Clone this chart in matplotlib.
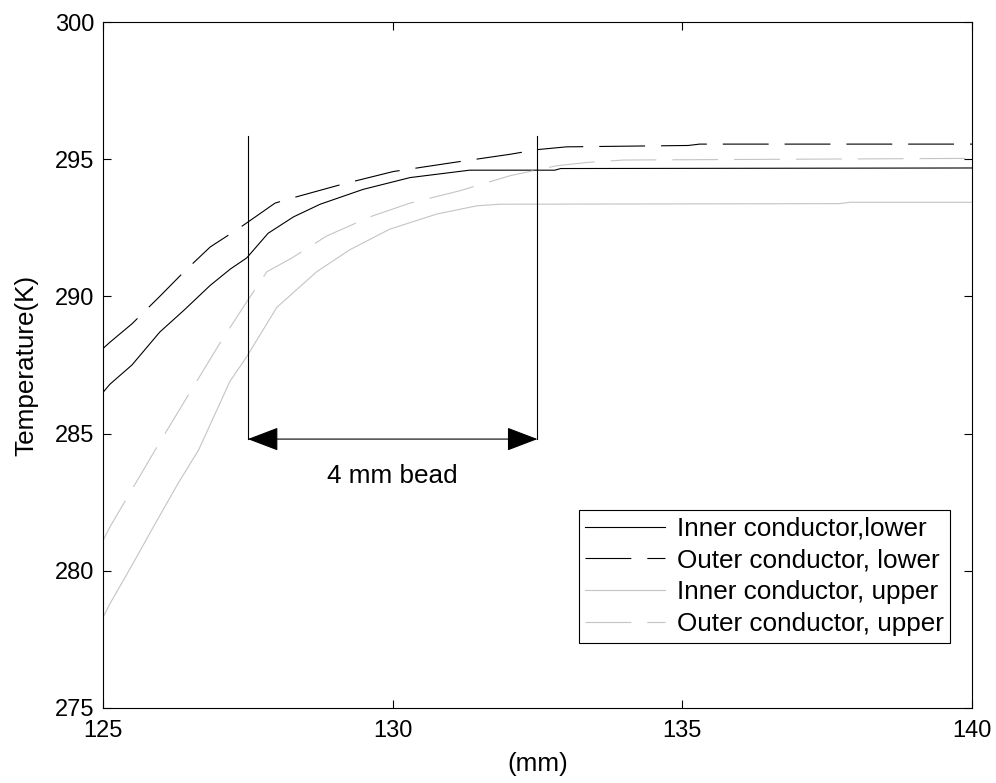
import matplotlib
matplotlib.use("Agg")
import matplotlib.pyplot as plt

plt.rcParams['font.family'] = ['Liberation Sans', 'DejaVu Sans']
plt.rcParams['font.size'] = 18.8
plt.rcParams['lines.scale_dashes'] = False

# series (position in mm, temperature in K)
x_inner_lower = [125.0, 125.12, 125.5, 125.98, 126.4, 126.85, 127.2, 127.48, 127.85,
                 128.29, 128.75, 129.49, 130.3, 131.33, 132.8, 132.9, 140.0]
t_inner_lower = [286.5, 286.8, 287.5, 288.7, 289.5, 290.4, 291.0, 291.4, 292.3,
                 292.9, 293.36, 293.9, 294.33, 294.6, 294.6, 294.66, 294.68]

x_outer_lower = [125.0, 125.12, 125.5, 125.98, 126.4, 126.85, 127.36, 127.97, 128.29,
                 129.15, 130.01, 131.05, 132.03, 132.5, 133.0, 135.1, 135.3, 140.0]
t_outer_lower = [288.1, 288.33, 289.0, 290.0, 290.9, 291.8, 292.5, 293.4, 293.6,
                 294.1, 294.55, 294.88, 295.18, 295.35, 295.45, 295.5, 295.55, 295.55]

x_inner_upper = [125.0, 125.12, 125.5, 125.87, 126.3, 126.65, 127.19, 127.48, 128.0,
                 128.69, 129.26, 129.95, 130.76, 131.45, 131.85, 137.7, 137.9, 140.0]
t_inner_upper = [278.3, 278.8, 280.2, 281.6, 283.2, 284.4, 286.9, 287.8, 289.6,
                 290.9, 291.7, 292.45, 293.0, 293.3, 293.36, 293.38, 293.43, 293.43]

x_outer_upper = [125.0, 125.12, 125.9, 126.5, 127.02, 127.48, 127.83, 128.26, 128.86,
                 129.61, 130.3, 131.16, 132.03, 132.83, 133.35, 133.98, 140.0]
t_outer_upper = [281.1, 281.6, 284.4, 286.5, 288.3, 289.8, 290.9, 291.4, 292.2,
                 292.9, 293.4, 293.85, 294.4, 294.76, 294.88, 294.97, 295.03]

labels = ['Inner conductor,lower', 'Outer conductor, lower',
          'Inner conductor, upper', 'Outer conductor, upper']

bead_left, bead_right = 127.5, 132.5
bead_bottom, bead_top = 284.8, 295.85

fig = plt.figure(figsize=(9.96, 7.83), dpi=100)
ax = fig.add_axes([0.1034, 0.0958, 0.8725, 0.8761])

dash = (33, 11.5)
light = '#c4c4c4'
ax.plot(x_inner_lower, t_inner_lower, color='black', lw=0.8, label=labels[0])
ax.plot(x_outer_lower, t_outer_lower, color='black', lw=0.8, dashes=dash, label=labels[1])
ax.plot(x_inner_upper, t_inner_upper, color=light, lw=0.8, label=labels[2])
ax.plot(x_outer_upper, t_outer_upper, color=light, lw=0.8, dashes=dash, label=labels[3])

# bead markers
ax.plot([bead_left, bead_left], [bead_bottom, bead_top], color='black', lw=0.8)
ax.plot([bead_right, bead_right], [bead_bottom, bead_top], color='black', lw=0.8)
ax.annotate('', xy=(bead_left, bead_bottom), xytext=(bead_right, bead_bottom),
            arrowprops=dict(arrowstyle='<|-|>,head_length=1.05,head_width=0.4',
                            color='black', lw=0.8, shrinkA=0, shrinkB=0))
ax.text((bead_left + bead_right) / 2, 283.45, '4 mm bead', ha='center', va='center')

ax.set_xlim(125, 140)
ax.set_ylim(275, 300)
ax.set_xticks([125, 130, 135, 140])
ax.set_yticks([275, 280, 285, 290, 295, 300])
ax.tick_params(direction='in', length=6, width=0.8, top=True, right=True, pad=6,
               labelsize=17)
ax.tick_params(axis='x', pad=9)
for s in ax.spines.values():
    s.set_linewidth(0.8)

ax.set_xlabel('(mm)', labelpad=7)
ax.set_ylabel('Temperature(K)', labelpad=12)

leg = ax.legend(loc='lower right', bbox_to_anchor=(0.975, 0.095), fancybox=False,
                edgecolor='black', framealpha=1, handlelength=3.05, labelspacing=0.3,
                borderaxespad=0, handletextpad=0.45, borderpad=0.25)
leg.get_frame().set_linewidth(0.8)

plt.savefig('out.png', dpi=100)
